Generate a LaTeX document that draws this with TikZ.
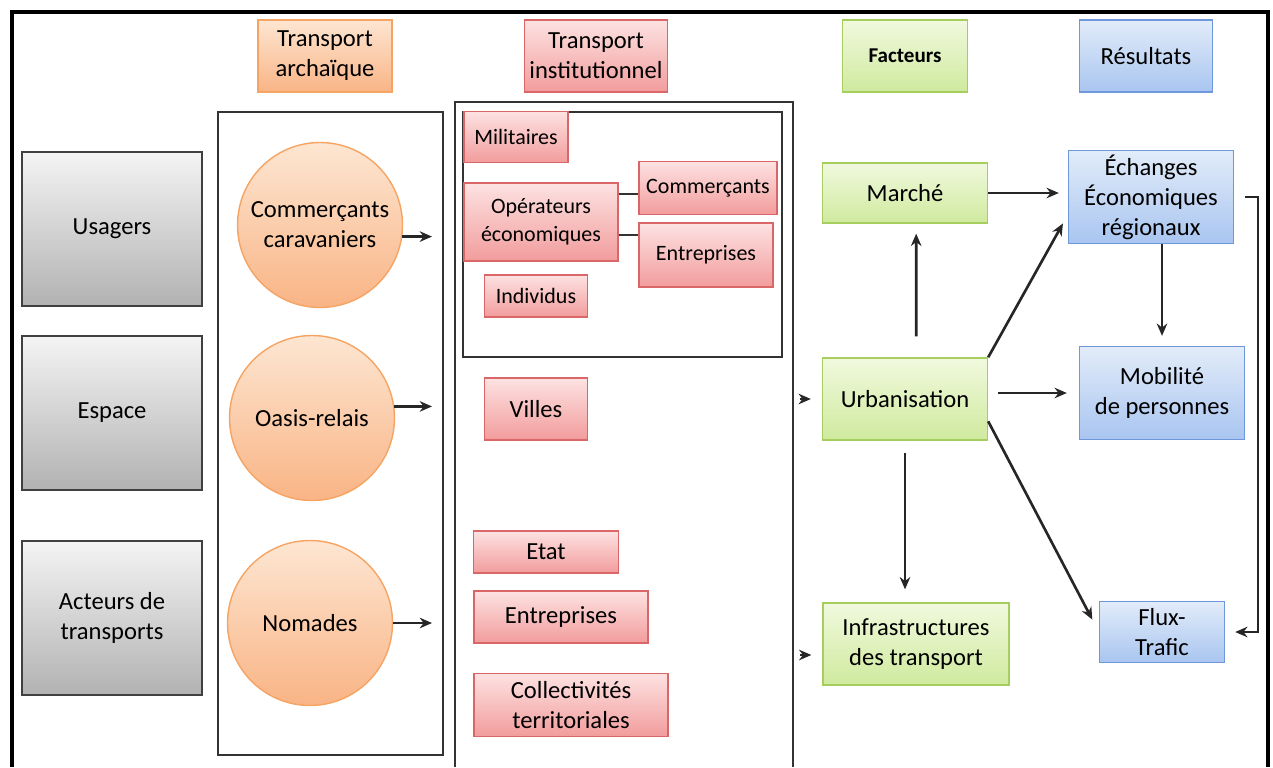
\documentclass[tikz,border=0pt]{standalone}
\usepackage{fontspec}
\setmainfont{Carlito}
\usetikzlibrary{
    arrows.meta,
    calc
}
\definecolor{greyTop}{HTML}{F4F4F4}
\definecolor{greyBot}{HTML}{B2B2B2}
\definecolor{orangeLine}{HTML}{F5A464}
\definecolor{orangeTop}{HTML}{FDE6D2}
\definecolor{orangeBot}{HTML}{F9B485}
\definecolor{pinkLine}{HTML}{D96767}
\definecolor{pinkTop}{HTML}{FDE2E2}
\definecolor{pinkBot}{HTML}{F29C9C}
\definecolor{greenLine}{HTML}{A5CE5E}
\definecolor{greenTop}{HTML}{F1F9DE}
\definecolor{greenBot}{HTML}{CFEA9E}
\definecolor{blueLine}{HTML}{6F98DC}
\definecolor{blueTop}{HTML}{E2ECF9}
\definecolor{blueBot}{HTML}{A9C5F0}
\tikzset{
    box/.style={rectangle, align=center, text=black, inner sep=2pt, line width=0.8pt,
        font=\fontsize{14}{17}\selectfont},
    greybox/.style={box, draw=black!75, top color=greyTop, bottom color=greyBot, line width=1.2pt},
    orangebox/.style={box, draw=orangeLine, top color=orangeTop, bottom color=orangeBot},
    disc/.style={orangebox, circle, minimum size=3.3cm},
    pinkbox/.style={box, draw=pinkLine, top color=pinkTop, bottom color=pinkBot},
    smallpink/.style={pinkbox, font=\fontsize{12.5}{16}\selectfont},
    greenbox/.style={box, draw=greenLine, top color=greenTop, bottom color=greenBot},
    bluebox/.style={box, draw=blueLine, top color=blueTop, bottom color=blueBot},
    arr/.style={-{Stealth[length=7pt,width=6pt]}, line width=1.5pt, black!85},
    frame/.style={line width=1.4pt, black!80}
}

\begin{document}
\begin{tikzpicture}[x=0.02cm, y=-0.02cm]
\useasboundingbox (0,0) rectangle (1273,767);

% outer frame, open at the bottom
\draw[line width=2.6pt] (12,767) -- (12,12) -- (1268,12) -- (1268,767);

% column headers
\node[orangebox, minimum width=2.68cm, minimum height=1.44cm] (hArch) at (325,56) {Transport\\archaïque};
\node[pinkbox, minimum width=2.86cm, minimum height=1.44cm] (hInst) at (596,56) {Transport\\institutionnel};
\node[greenbox, minimum width=2.5cm, minimum height=1.44cm, font=\fontsize{12}{14}\selectfont\bfseries] (hFact) at (905,56) {Facteurs};
\node[bluebox, minimum width=2.66cm, minimum height=1.44cm] (hRes) at (1146,56) {Résultats};

% row labels
\node[greybox, minimum width=3.6cm, minimum height=3.08cm] (usagers) at (112,229) {Usagers};
\node[greybox, minimum width=3.6cm, minimum height=3.08cm] (espace) at (112,413) {Espace};
\node[greybox, minimum width=3.6cm, minimum height=3.08cm] (acteurs) at (112,618) {Acteurs de\\transports};

% archaic transport
\draw[frame] (218,112) rectangle (443,755);
\node[disc] (caravan) at (320,225) {Commerçants\\caravaniers};
\node[disc] (oasis) at (312,418) {Oasis-relais};
\node[disc] (nomades) at (310,623) {Nomades};

\coordinate (a1) at (432,0);
\draw[arr] (caravan.-8) -- (caravan.-8 -| a1);
\draw[arr] (oasis.8) -- (oasis.8 -| a1);
\draw[arr] (nomades.east) -- (nomades.east -| a1);

% institutional transport
\draw[frame] (455,767) -- (455,102) -- (793,102) -- (793,767);
\draw[frame] (463,112) rectangle (782,357);

\node[smallpink, minimum width=2.08cm, minimum height=1.02cm] (militaires) at (516,137) {Militaires};
\node[smallpink, minimum width=3.08cm, minimum height=1.56cm] (operateurs) at (541,222) {Opérateurs\\économiques};
\node[smallpink, minimum width=2.76cm, minimum height=1.06cm] (commercants) at (708,188) {Commerçants};
\node[smallpink, minimum width=2.68cm, minimum height=1.28cm] (entreprisesA) at (706,255) {Entreprises};
\node[smallpink, minimum width=2.06cm, minimum height=0.84cm] (individus) at (536,296) {Individus};

\draw[line width=1.4pt, black!80] ($(operateurs.east)+(0,-28)$) -- ($(commercants.west)+(0,6)$);
\draw[line width=1.4pt, black!80] ($(operateurs.east)+(0,13)$) -- ($(entreprisesA.west)+(0,-20)$);

\node[pinkbox, minimum width=2.06cm, minimum height=1.24cm] (villes) at (536,409) {Villes};
\node[pinkbox, minimum width=2.9cm, minimum height=0.84cm] (etat) at (546,552) {Etat};
\node[pinkbox, minimum width=3.48cm, minimum height=1.04cm] (entreprisesB) at (561,617) {Entreprises};
\node[pinkbox, minimum width=3.88cm, minimum height=1.26cm] (collectivites) at (571,705) {Collectivités\\territoriales};

% factors
\node[greenbox, minimum width=3.3cm, minimum height=1.2cm] (marche) at (905,193) {Marché};
\node[greenbox, minimum width=3.3cm, minimum height=1.64cm] (urbanisation) at (905,399) {Urbanisation};
\node[greenbox, minimum width=3.72cm, minimum height=1.64cm] (infra) at (916,644) {Infrastructures\\des transport};

\coordinate (h1) at (800,399);
\coordinate (h2) at (800,655);
\draw[arr, shorten >=0.22cm] (h1) -- (urbanisation.west);
\draw[arr, shorten >=0.22cm] (h2) -- (h2 -| infra.west);

% results
\node[bluebox, minimum width=3.3cm, minimum height=1.86cm] (echanges) at (1151,197) {Échanges\\Économiques\\régionaux};
\node[bluebox, minimum width=3.3cm, minimum height=1.86cm] (mobilite) at (1162,393) {Mobilité\\de personnes};
\node[bluebox, minimum width=2.5cm, minimum height=1.22cm] (flux) at (1162,632) {Flux-\\Trafic};

% links
\draw[arr, shorten <=0.42cm, shorten >=0.2cm] (urbanisation.75) -- (marche.-70);
\draw[arr, shorten <=0.24cm, shorten >=0.26cm] (urbanisation.south) -- (urbanisation.south |- infra.north);
\draw[arr, shorten >=0.18cm] (marche.east) -- (echanges.west |- marche.east);
\draw[arr, shorten >=0.2cm] (urbanisation.north east) -- (echanges.192);
\draw[arr, shorten <=0.2cm, shorten >=0.24cm] (urbanisation.east |- mobilite.west) -- (mobilite.west);
\draw[arr, shorten >=0.28cm] (urbanisation.-15) -- (flux.west);
\draw[arr, shorten >=0.2cm] (mobilite.north |- echanges.south) -- (mobilite.north);

\coordinate (bend) at (1258,0);
\draw[arr, shorten <=0.22cm, shorten >=0.2cm] (echanges.east) -- (echanges.east -| bend) -- (bend |- flux.east) -- (flux.east);
\end{tikzpicture}
\end{document}
